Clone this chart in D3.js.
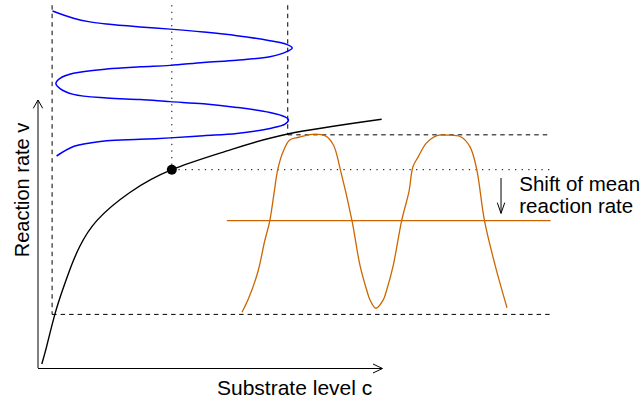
<!DOCTYPE html>
<html lang="en">
<head>
<meta charset="UTF-8">
<title>Substrate oscillation and mean reaction rate</title>
<script src="https://d3js.org/d3.v7.min.js"></script>
<style>
    body { margin: 0; padding: 0; background: #fff; overflow: hidden; }
    svg text { font-family: "Liberation Sans", Arial, Helvetica, sans-serif; font-size: 20px; fill: #000; }
</style>
</head>
<body>
<div id="chart"></div>
<script>
    // Michaelis-Menten-like response curve (c, v)
    const curveC = [0.11, 0.25, 0.49, 0.74, 0.98, 1.22, 1.71, 2.67, 3.89, 5.49, 7.26, 9.99];
    const curveV = [0.015, 0.08, 0.20, 0.30, 0.385, 0.455, 0.55, 0.655, 0.74, 0.81, 0.873, 0.928];

    // oscillating substrate level (blue), c against time
    const inputC = [0.42, 1.03, 1.51, 2.00, 2.97, 3.84, 4.81, 5.78, 6.74, 7.23, 7.39, 7.23, 6.74, 5.78, 4.81, 3.84, 2.97, 2.00, 1.03, 0.64, 0.52,
                    0.64, 1.03, 2.00, 2.97, 3.84, 4.81, 5.78, 6.74, 7.18, 7.28, 7.18, 6.74, 5.78, 4.81, 3.84, 2.97, 2.00, 1.51, 1.03, 0.54];
    const inputT = [0.00, 0.10, 0.15, 0.18, 0.22, 0.25, 0.29, 0.34, 0.41, 0.46, 0.51, 0.56, 0.63, 0.68, 0.71, 0.75, 0.77, 0.80, 0.86, 0.93, 1.00,
                    1.07, 1.15, 1.20, 1.22, 1.25, 1.28, 1.33, 1.40, 1.46, 1.50, 1.56, 1.62, 1.69, 1.72, 1.75, 1.77, 1.79, 1.82, 1.87, 2.00];

    // resulting reaction rate (orange), v against time
    const outputT = [0.00, 0.05, 0.12, 0.17, 0.21, 0.24, 0.27, 0.31, 0.36, 0.43, 0.53, 0.63, 0.69, 0.74, 0.83, 0.89, 0.941, 0.966, 1.011,
                     1.066, 1.092, 1.142, 1.205, 1.26, 1.29, 1.33, 1.39, 1.47, 1.55, 1.65, 1.72, 1.77, 1.83, 1.91, 2.00];
    const outputV = [0.208, 0.260, 0.359, 0.471, 0.550, 0.646, 0.741, 0.807, 0.851, 0.861, 0.872, 0.866, 0.832, 0.745, 0.550, 0.384, 0.291, 0.254, 0.223,
                     0.254, 0.291, 0.384, 0.550, 0.658, 0.751, 0.788, 0.838, 0.867, 0.869, 0.863, 0.826, 0.745, 0.550, 0.384, 0.225];

    // reference levels
    const cMin = 0.41, cMax = 7.26, cMean = 3.89, cMeanLine = 5.49, cRight = 14.9;
    const vMin = 0.20, vMax = 0.87, vAtMean = 0.74, vMean = 0.55;
    const shiftFrom = 0.709, shiftTo = 0.577, cShift = 13.46, cText = 13.99;
    const labels = { x: "Substrate level c", y: "Reaction rate v", note: ["Shift of mean", "reaction rate"] };

    const W = 642, H = 402;
    const svg = d3.select("#chart").append("svg")
        .attr("width", W).attr("height", H);

    const x = d3.scaleLinear().domain([0, 10]).range([38, 382]);
    const y = d3.scaleLinear().domain([0, 1]).range([368, 100]);
    const tIn = d3.scaleLinear().domain([0, 2]).range([11, 156]);
    const tOut = d3.scaleLinear().domain([0, 2]).range([242, 507]);
    const guideTop = tIn(-0.08);

    // guide lines
    const g = svg.append("g").attr("fill", "none").attr("stroke", "#000").attr("stroke-width", 1);
    const dashed = "4.5,4", dotted = "1.3,5.3";
    g.append("line").attr("x1", x(cMin)).attr("x2", x(cMin)).attr("y1", guideTop).attr("y2", y(vMin)).attr("stroke-dasharray", dashed);
    g.append("line").attr("x1", x(cMin)).attr("x2", x(cRight)).attr("y1", y(vMin)).attr("y2", y(vMin)).attr("stroke-dasharray", dashed);
    g.append("line").attr("x1", x(cMax)).attr("x2", x(cMax)).attr("y1", guideTop).attr("y2", y(vMax)).attr("stroke-dasharray", dashed);
    g.append("line").attr("x1", x(cMax)).attr("x2", x(cRight)).attr("y1", y(vMax)).attr("y2", y(vMax)).attr("stroke-dasharray", dashed);
    g.append("line").attr("x1", x(cMean)).attr("x2", x(cMean)).attr("y1", guideTop).attr("y2", y(vAtMean)).attr("stroke-dasharray", dotted);
    g.append("line").attr("x1", x(cMean)).attr("x2", x(cRight)).attr("y1", y(vAtMean)).attr("y2", y(vAtMean)).attr("stroke-dasharray", dotted);

    // axes with open arrow heads
    const axes = svg.append("g").attr("fill", "none").attr("stroke", "#000").attr("stroke-width", 1);
    axes.append("line").attr("x1", x(0)).attr("x2", x(0)).attr("y1", y(0)).attr("y2", y(1));
    axes.append("line").attr("x1", x(0)).attr("x2", x(10)).attr("y1", y(0) + 0.5).attr("y2", y(0) + 0.5);
    axes.append("path").attr("d", `M${x(0) - 4.7},${y(1) + 8.3}L${x(0)},${y(1)}L${x(0) + 4.7},${y(1) + 8.3}`);
    axes.append("path").attr("d", `M${x(10) - 9},${y(0) - 4}L${x(10) + 0.5},${y(0) + 0.5}L${x(10) - 9},${y(0) + 5}`);

    // response curve
    svg.append("path")
        .attr("d", d3.line().x(d => x(d[0])).y(d => y(d[1])).curve(d3.curveNatural)(d3.zip(curveC, curveV)))
        .attr("fill", "none").attr("stroke", "#000").attr("stroke-width", 1.4);

    // substrate oscillation
    svg.append("path")
        .attr("d", d3.line().x(d => x(d[0])).y(d => tIn(d[1])).curve(d3.curveCatmullRom.alpha(0.5))(d3.zip(inputC, inputT)))
        .attr("fill", "none").attr("stroke", "#0000ff").attr("stroke-width", 1.5);

    // reaction rate over time and its mean
    svg.append("path")
        .attr("d", d3.line().x(d => tOut(d[0])).y(d => y(d[1])).curve(d3.curveCatmullRom.alpha(0.5))(d3.zip(outputT, outputV)))
        .attr("fill", "none").attr("stroke", "#cd6600").attr("stroke-width", 1.3);
    svg.append("line")
        .attr("x1", x(cMeanLine)).attr("x2", x(cRight)).attr("y1", y(vMean)).attr("y2", y(vMean))
        .attr("stroke", "#cd6600").attr("stroke-width", 1.3);

    // operating point
    svg.append("circle").attr("cx", x(cMean)).attr("cy", y(vAtMean)).attr("r", 5).attr("fill", "#000");

    // shift arrow and note
    const sx = x(cShift);
    svg.append("path")
        .attr("d", `M${sx},${y(shiftFrom)}L${sx},${y(shiftTo)}M${sx - 3.7},${y(shiftTo) - 10.7}L${sx},${y(shiftTo)}L${sx + 3.7},${y(shiftTo) - 10.7}`)
        .attr("fill", "none").attr("stroke", "#000").attr("stroke-width", 1);
    svg.append("text").attr("x", x(cText)).attr("y", 191).style("font-size", "20.5px").text(labels.note[0]);
    svg.append("text").attr("x", x(cText)).attr("y", 213).style("font-size", "20.5px").text(labels.note[1]);

    // axis titles
    svg.append("text").attr("x", 217).attr("y", 395).style("font-size", "21px").text(labels.x);
    svg.append("text")
        .attr("transform", `translate(28.5,${190}) rotate(-90)`)
        .attr("text-anchor", "middle")
        .text(labels.y);
</script>
</body>
</html>
